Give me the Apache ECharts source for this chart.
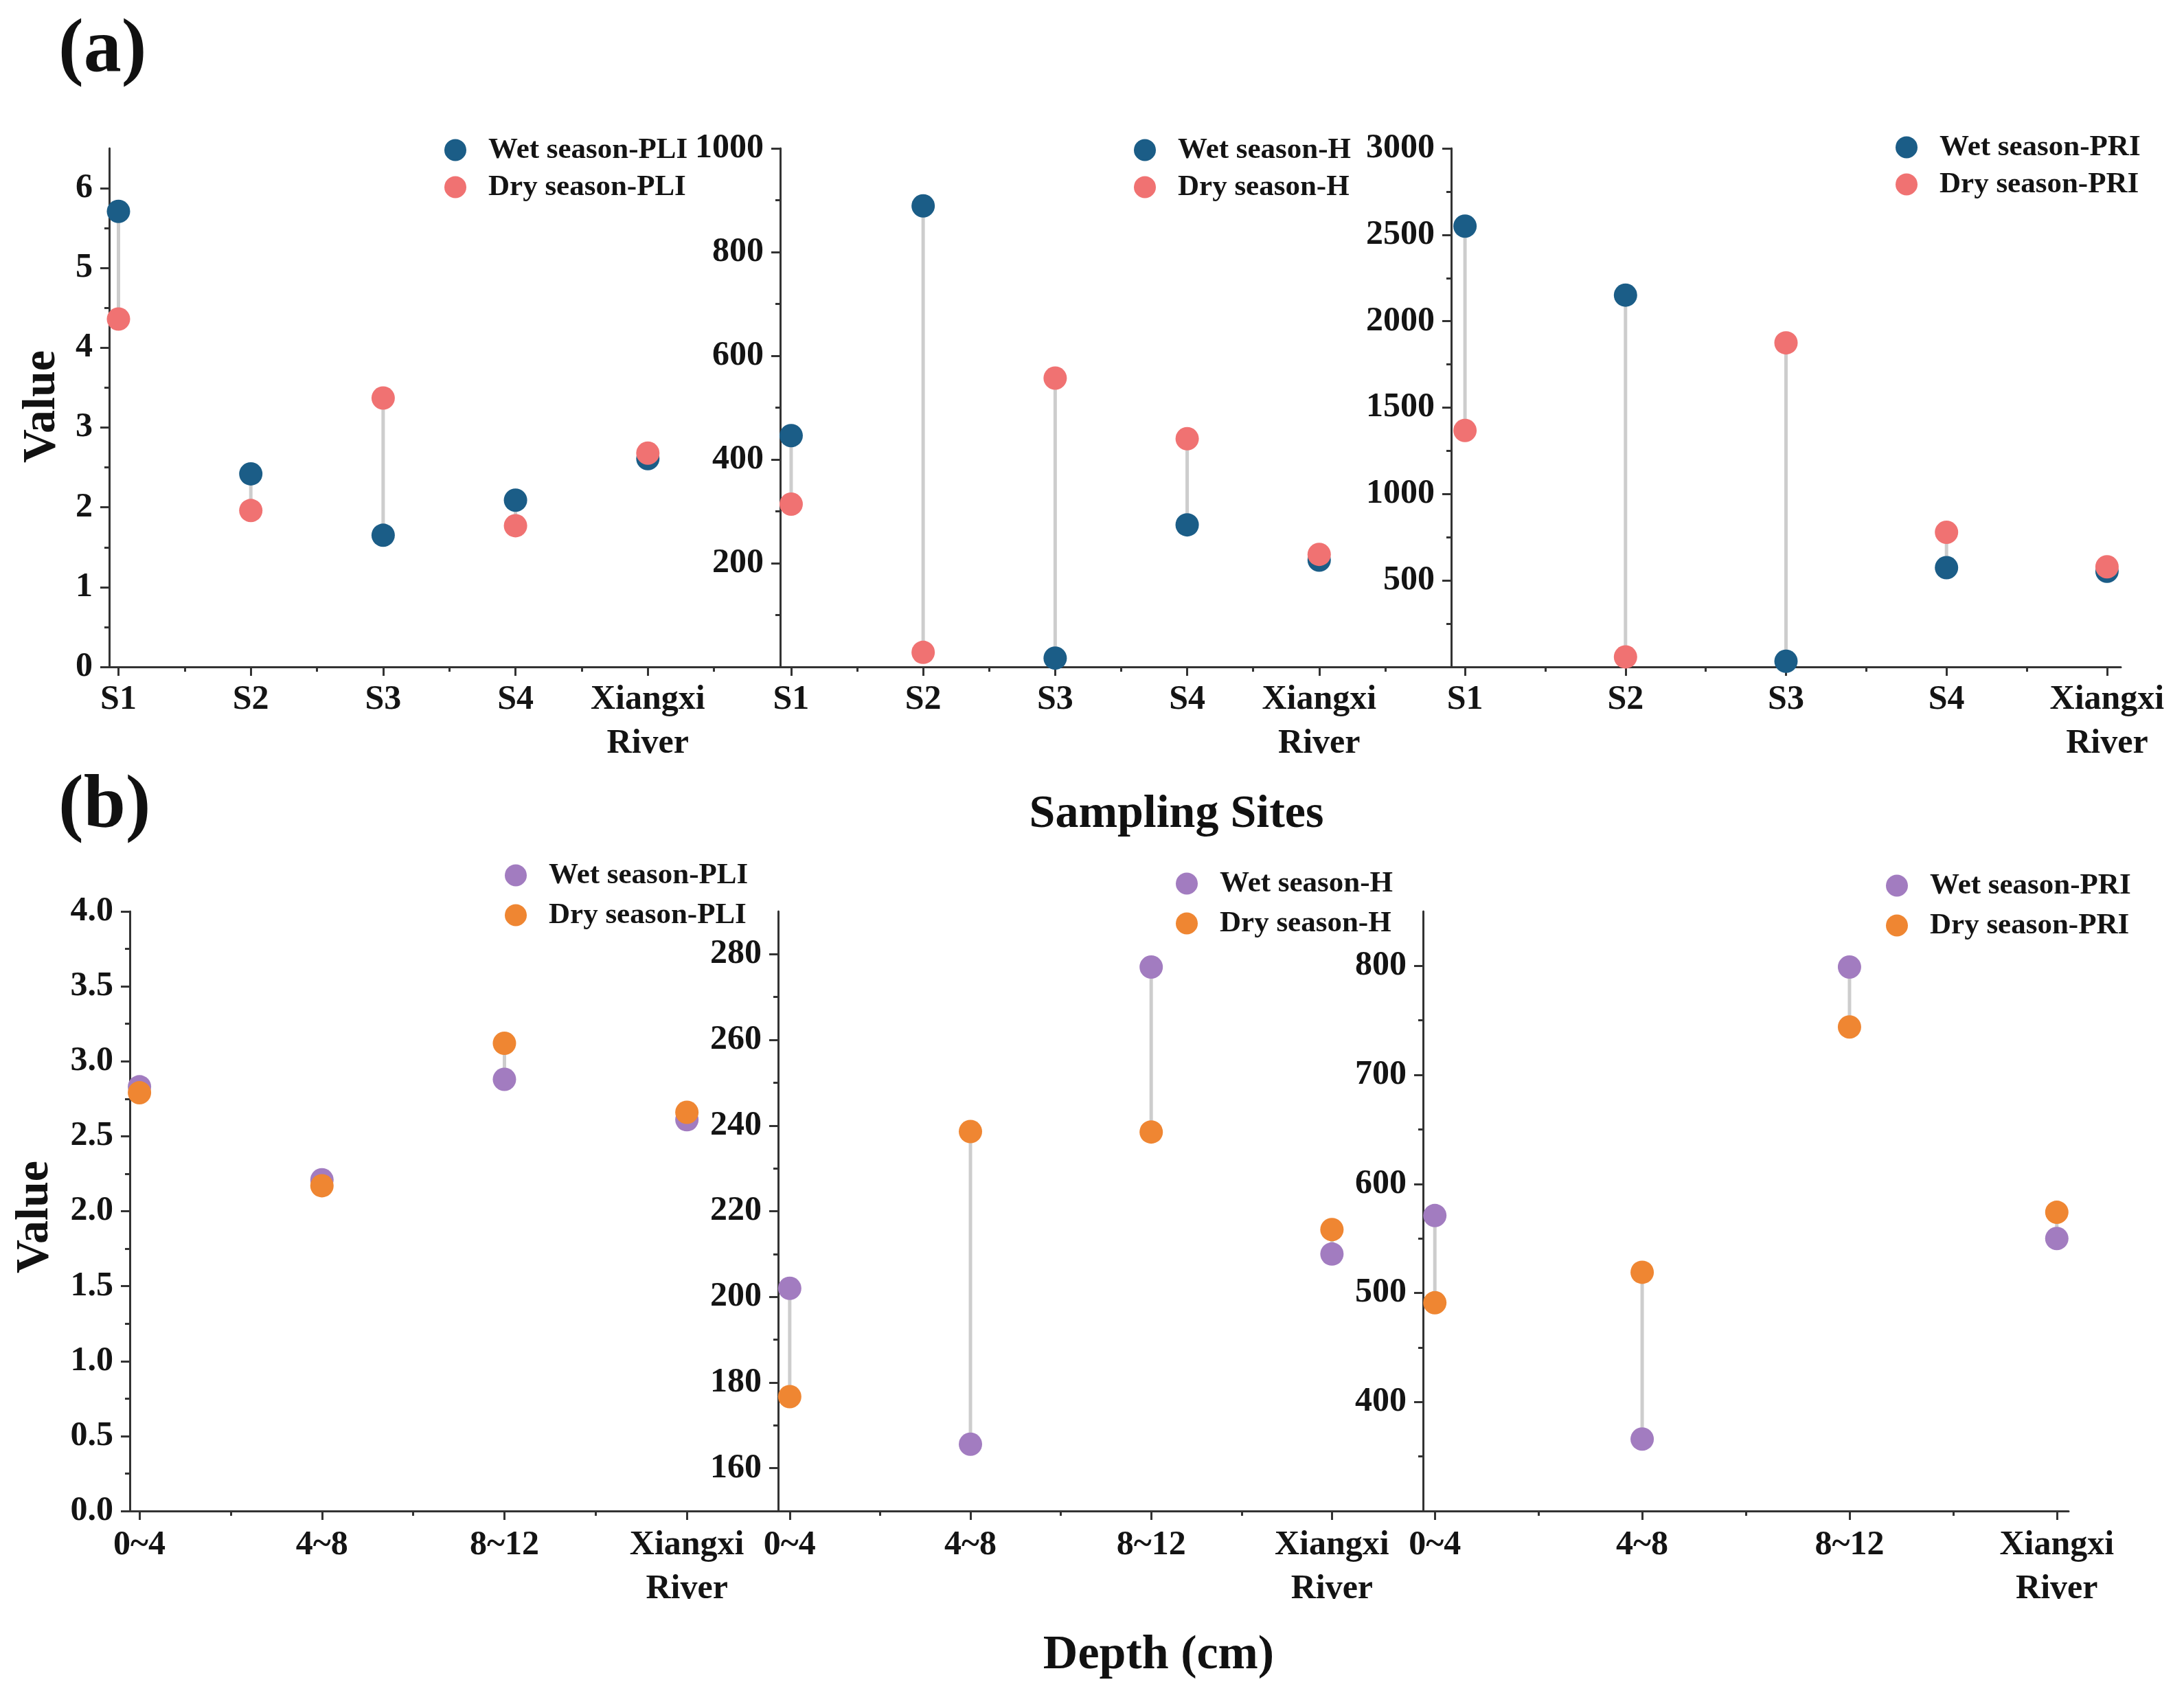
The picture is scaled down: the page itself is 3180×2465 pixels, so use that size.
<!DOCTYPE html>
<html>
<head>
<meta charset="utf-8">
<title>PLI, H and PRI by sampling site and depth</title>
<script src="https://cdn.jsdelivr.net/npm/echarts@6/dist/echarts.min.js"></script>
<style>
html, body { margin: 0; padding: 0; background: #fff; }
#main { width: 3180px; height: 2465px; }
</style>
</head>
<body>
<div id="main"></div>
<script>
// categories
const sites = ['S1', 'S2', 'S3', 'S4', 'Xiangxi\nRiver'];
const depths = ['0~4', '4~8', '8~12', 'Xiangxi\nRiver'];

// (a) by sampling site
const wetPLI_a = [5.71, 2.42, 1.65, 2.09, 2.61];
const dryPLI_a = [4.36, 1.96, 3.37, 1.77, 2.68];
const wetH_a = [446, 889, 17, 274, 206];
const dryH_a = [314, 28, 557, 440, 217];
const wetPRI_a = [2550, 2151, 33, 574, 553];
const dryPRI_a = [1368, 58, 1875, 779, 579];

// (b) by depth
const wetPLI_b = [2.83, 2.21, 2.88, 2.61];
const dryPLI_b = [2.79, 2.17, 3.12, 2.66];
const wetH_b = [202, 165.6, 277, 210];
const dryH_b = [176.7, 238.6, 238.5, 215.7];
const wetPRI_b = [571, 366, 799, 550];
const dryPRI_b = [491, 519, 744, 574];

// y tick labels (major) and minor ticks
const yPLI_a = [0, 1, 2, 3, 4, 5, 6];
const yPLI_a_minor = [0.5, 1.5, 2.5, 3.5, 4.5, 5.5];
const yH_a = [200, 400, 600, 800, 1000];
const yH_a_minor = [100, 300, 500, 700, 900];
const yPRI_a = [500, 1000, 1500, 2000, 2500, 3000];
const yPRI_a_minor = [250, 750, 1250, 1750, 2250, 2750];
const yPLI_b = [0, 0.5, 1, 1.5, 2, 2.5, 3, 3.5, 4];
const yPLI_b_minor = [0.25, 0.75, 1.25, 1.75, 2.25, 2.75, 3.25, 3.75];
const yH_b = [160, 180, 200, 220, 240, 260, 280];
const yH_b_minor = [170, 190, 210, 230, 250, 270];
const yPRI_b = [400, 500, 600, 700, 800];
const yPRI_b_minor = [350, 450, 550, 650, 750];

const FONT = '"Liberation Serif", "Times New Roman", serif';
const INK = '#141414';
const blue = '#1b5d87', pink = '#f07272', purple = '#a27cc0', orange = '#ef8632';

const myChart = echarts.init(document.getElementById('main'));

const grid = [], xAxis = [], yAxis = [], series = [], legend = [];

function panel(p) {
  const gi = grid.length;
  grid.push({ left: p.rect[0], top: p.rect[1], width: p.rect[2], height: p.rect[3], containLabel: false });
  const xMajor = p.cats.map((c, k) => k + 1);
  const xMinor = [];
  for (let k = 1; k + 0.5 < p.xMax - 0.01; k++) xMinor.push(k + 0.5);
  const axisLine = { show: true, onZero: false, lineStyle: { color: '#333', width: 3 } };
  // x axis: labels + major ticks, then minor ticks only
  xAxis.push({
    type: 'value', gridIndex: gi, position: 'bottom', min: p.xMin, max: p.xMax,
    axisLine: axisLine,
    axisTick: { show: true, inside: false, length: 13, lineStyle: { color: '#333', width: 3 }, customValues: xMajor },
    axisLabel: {
      show: true, customValues: xMajor, margin: p.xMargin,
      color: INK, fontFamily: FONT, fontWeight: 'bold', fontSize: 50, lineHeight: 64,
      formatter: v => p.cats[Math.round(v) - 1] || ''
    },
    splitLine: { show: false }
  });
  xAxis.push({
    type: 'value', gridIndex: gi, position: 'bottom', min: p.xMin, max: p.xMax,
    axisLine: { show: false, onZero: false },
    axisTick: { show: true, inside: false, length: 7, lineStyle: { color: '#333', width: 3 }, customValues: xMinor },
    axisLabel: { show: false },
    splitLine: { show: false }
  });
  yAxis.push({
    type: 'value', gridIndex: gi, position: 'left', min: p.yMin, max: p.yMax,
    axisLine: axisLine,
    axisTick: { show: true, inside: false, length: 13, lineStyle: { color: '#333', width: 3 }, customValues: p.yMajor },
    axisLabel: {
      show: true, customValues: p.yMajor, margin: 24,
      color: INK, fontFamily: FONT, fontWeight: 'bold', fontSize: 50,
      formatter: v => p.dec ? v.toFixed(p.dec) : String(v)
    },
    splitLine: { show: false }
  });
  yAxis.push({
    type: 'value', gridIndex: gi, position: 'left', min: p.yMin, max: p.yMax,
    axisLine: { show: false, onZero: false },
    axisTick: { show: true, inside: false, length: 7, lineStyle: { color: '#333', width: 3 }, customValues: p.yMinor },
    axisLabel: { show: false },
    splitLine: { show: false }
  });
  const xi = gi * 2, yi = gi * 2;
  // grey connector between wet and dry season
  series.push({
    type: 'custom', xAxisIndex: xi, yAxisIndex: yi, silent: true,
    encode: { x: 0, y: [1, 2] },
    data: p.cats.map((c, k) => [k + 1, p.wet[k], p.dry[k]]),
    renderItem: function (params, api) {
      const a = api.coord([api.value(0), api.value(1)]);
      const b = api.coord([api.value(0), api.value(2)]);
      return { type: 'line', shape: { x1: a[0], y1: a[1], x2: b[0], y2: b[1] }, style: { stroke: '#cdcdcd', lineWidth: 5 } };
    }
  });
  series.push({
    name: p.names[0], type: 'scatter', xAxisIndex: xi, yAxisIndex: yi,
    symbol: 'circle', symbolSize: 34, itemStyle: { color: p.colors[0], opacity: 1 },
    data: p.wet.map((v, k) => [k + 1, v])
  });
  series.push({
    name: p.names[1], type: 'scatter', xAxisIndex: xi, yAxisIndex: yi,
    symbol: 'circle', symbolSize: 34, itemStyle: { color: p.colors[1], opacity: 1 },
    data: p.dry.map((v, k) => [k + 1, v])
  });
  legend.push({
    data: p.names, orient: 'vertical', left: p.legend[0], top: p.legend[1],
    icon: 'circle', itemWidth: 86, itemHeight: 32, itemGap: p.legend[2],
    selectedMode: false,
    textStyle: { color: INK, fontFamily: FONT, fontWeight: 'bold', fontSize: 43, lineHeight: 32 }
  });
}

// (a)
panel({ rect: [159, 216, 977, 755], xMin: 0.93, xMax: 6.0, cats: sites, xMargin: 16,
  yMin: 0, yMax: 6.5, yMajor: yPLI_a, yMinor: yPLI_a_minor, wet: wetPLI_a, dry: dryPLI_a,
  names: ['Wet season-PLI', 'Dry season-PLI'], colors: [blue, pink], legend: [642, 192, 11] });
panel({ rect: [1136, 216, 977, 755], xMin: 0.917, xMax: 6.0, cats: sites, xMargin: 16,
  yMin: 0, yMax: 1000, yMajor: yH_a, yMinor: yH_a_minor, wet: wetH_a, dry: dryH_a,
  names: ['Wet season-H', 'Dry season-H'], colors: [blue, pink], legend: [1646, 192, 11] });
panel({ rect: [2113, 216, 975, 755], xMin: 0.914, xMax: 5.086, cats: sites, xMargin: 16,
  yMin: 0, yMax: 3000, yMajor: yPRI_a, yMinor: yPRI_a_minor, wet: wetPRI_a, dry: dryPRI_a,
  names: ['Wet season-PRI', 'Dry season-PRI'], colors: [blue, pink], legend: [2755, 188, 11] });

// (b) — trailing space keeps legend names distinct from (a)
panel({ rect: [189, 1327, 944, 873], xMin: 0.947, xMax: 4.5, cats: depths, xMargin: 18,
  yMin: 0, yMax: 4, yMajor: yPLI_b, yMinor: yPLI_b_minor, wet: wetPLI_b, dry: dryPLI_b, dec: 1,
  names: ['Wet season-PLI ', 'Dry season-PLI '], colors: [purple, orange], legend: [730, 1248, 15] });
panel({ rect: [1133, 1327, 939, 873], xMin: 0.936, xMax: 4.504, cats: depths, xMargin: 18,
  yMin: 150, yMax: 290, yMajor: yH_b, yMinor: yH_b_minor, wet: wetH_b, dry: dryH_b,
  names: ['Wet season-H ', 'Dry season-H '], colors: [purple, orange], legend: [1707, 1260, 15] });
panel({ rect: [2072, 1327, 940, 873], xMin: 0.943, xMax: 4.057, cats: depths, xMargin: 18,
  yMin: 300, yMax: 850, yMajor: yPRI_b, yMinor: yPRI_b_minor, wet: wetPRI_b, dry: dryPRI_b,
  names: ['Wet season-PRI ', 'Dry season-PRI '], colors: [purple, orange], legend: [2741, 1263, 15] });

function label(text, x, y, size, rot, align) {
  return {
    type: 'text', x: x, y: y, rotation: rot || 0, silent: true,
    style: { text: text, fill: '#111', fontFamily: FONT, fontWeight: 'bold', fontSize: size,
      align: align || 'center', verticalAlign: 'middle' }
  };
}

const option = {
  backgroundColor: '#fff',
  animation: false,
  grid: grid,
  xAxis: xAxis,
  yAxis: yAxis,
  legend: legend,
  series: series,
  graphic: [
    label('(a)', 85, 75, 110, 0, 'left'),
    label('(b)', 85, 1176, 110, 0, 'left'),
    label('Value', 61, 592, 68, Math.PI / 2),
    label('Value', 51, 1772, 68, Math.PI / 2),
    label('Sampling Sites', 1713, 1186, 68),
    label('Depth (cm)', 1687, 2411, 70)
  ]
};
myChart.setOption(option);
window.addEventListener('resize', function () {
  myChart.resize();
});
</script>
</body>
</html>
